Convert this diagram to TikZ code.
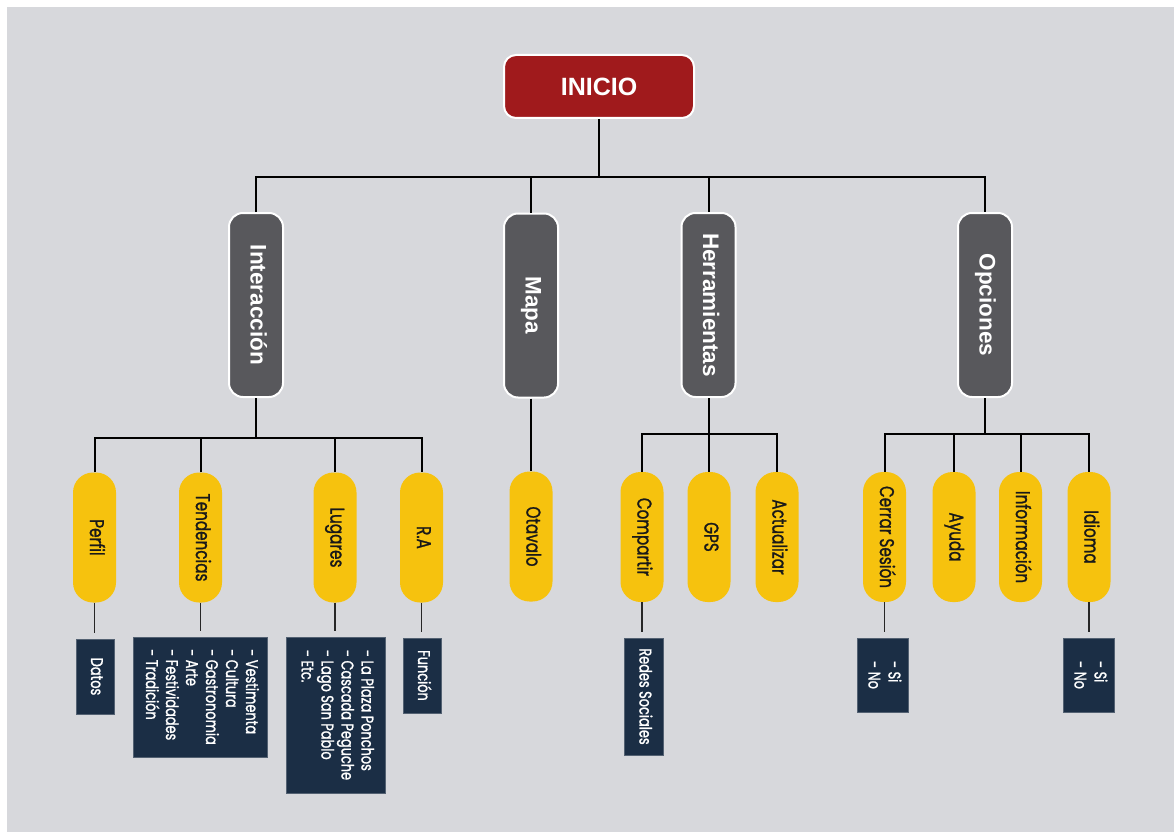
\documentclass[tikz,border=0pt]{standalone}
\usepackage{fontspec}
\usepackage{graphicx}
\setmainfont{Liberation Sans}
\newfontfamily\boldsans{Liberation Sans}
\newfontfamily\geofont[FakeStretch=0.76,FakeBold=1.2]{Poppins}
\definecolor{canvas}{HTML}{D7D8DC}
\definecolor{rootred}{HTML}{A01A1C}
\definecolor{mainslate}{HTML}{58585C}
\definecolor{leafgold}{HTML}{F6C20E}
\definecolor{notenavy}{HTML}{1B2E45}
\newcommand{\sidetext}[1]{\rotatebox[origin=c]{-90}{\begin{tabular}{@{}l@{}}#1\end{tabular}}}
\tikzset{
  rootbox/.style={rectangle, rounded corners=12pt, fill=rootred, draw=white, line width=2pt,
    minimum width=190pt, minimum height=63pt, text=white,
    font=\boldsans\bfseries\fontsize{25}{30}\selectfont},
  mainbox/.style={rectangle, rounded corners=14pt, fill=mainslate, draw=white, line width=2pt,
    minimum width=54pt, minimum height=184pt, text=white, inner sep=0pt,
    font=\boldsans\bfseries\fontsize{22.5}{27}\selectfont},
  leafbox/.style={rectangle, rounded corners=20pt, fill=leafgold, draw=none,
    minimum width=43pt, minimum height=130pt, text=black!90, inner sep=0pt,
    font=\geofont\fontsize{20}{23}\selectfont},
  notebox/.style={rectangle, fill=notenavy, draw=notenavy!70!canvas, line width=0.8pt,
    text=white, inner sep=0pt, font=\geofont\fontsize{17}{20}\selectfont},
  trunk/.style={draw=black, line width=2pt},
  twig/.style={draw=black!85, line width=1.3pt},
}
\begin{document}
\begin{tikzpicture}[x=1pt,y=-1pt]
\useasboundingbox (0,0) rectangle (1174,832);
\fill[white] (0,0) rectangle (1174,832);
\fill[canvas] (7,7) rectangle (1174,832);

% root
\node[rootbox] (inicio) at (599,86.5) {INICIO};

% main branches
\node[mainbox] (inter) at (256,305) {\sidetext{Interacción}};
\node[mainbox] (mapa)  at (531,305.5) {\sidetext{Mapa}};
\node[mainbox] (herr)  at (708.5,305) {\sidetext{Herramientas}};
\node[mainbox] (opc)   at (985,305) {\sidetext{Opciones}};

% leaves
\node[leafbox] (perfil) at (94.5,537.5) {\sidetext{Perfil}};
\node[leafbox] (tend)   at (200.5,537.5) {\sidetext{Tendencias}};
\node[leafbox] (lug)    at (335,537.5) {\sidetext{Lugares}};
\node[leafbox] (ra)     at (421.5,537.5) {\sidetext{R.A}};
\node[leafbox] (otav)   at (531,536.5) {\sidetext{Otavalo}};
\node[leafbox] (comp)   at (642,537) {\sidetext{Compartir}};
\node[leafbox] (gps)    at (709,537) {\sidetext{GPS}};
\node[leafbox] (act)    at (777,537) {\sidetext{Actualizar}};
\node[leafbox] (cerrar) at (884.5,537) {\sidetext{Cerrar Sesión}};
\node[leafbox] (ayuda)  at (954,537) {\sidetext{Ayuda}};
\node[leafbox] (info)   at (1020.5,537) {\sidetext{Información}};
\node[leafbox] (idioma) at (1089,537) {\sidetext{Idioma}};

% notes
\node[notebox, minimum width=38pt, minimum height=75pt] (datos) at (95,676.5) {\sidetext{Datos}};
\node[notebox, minimum width=134pt, minimum height=120pt] (tendl) at (200,697)
  {\sidetext{- Vestimenta\\- Cultura\\- Gastronomia\\- Arte\\- Festividades\\- Tradición}};
\node[notebox, minimum width=99pt, minimum height=156pt] (lugl) at (335.5,715)
  {\sidetext{- La Plaza Ponchos\\- Cascada Peguche\\- Lago San Pablo\\- Etc.}};
\node[notebox, minimum width=38pt, minimum height=75pt] (func) at (422,675.5) {\sidetext{Función}};
\node[notebox, minimum width=39pt, minimum height=117pt] (redes) at (643.5,696.5) {\sidetext{Redes Sociales}};
\node[notebox, minimum width=51pt, minimum height=74pt] (cerrl) at (882.5,675) {\sidetext{- Si\\- No}};
\node[notebox, minimum width=51pt, minimum height=74pt] (idiol) at (1088.5,675) {\sidetext{- Si\\- No}};

% root to main branches
\coordinate (topbar) at (599,177);
\draw[trunk] (inicio.south) -- (topbar);
\draw[trunk] (inter.north) |- (topbar) -| (opc.north);
\draw[trunk] (mapa.north) -- (mapa.north |- topbar);
\draw[trunk] (herr.north) -- (herr.north |- topbar);

% Interacción subtree
\coordinate (interbar) at (256,438);
\draw[trunk] (inter.south) -- (interbar);
\draw[trunk] (perfil.north) |- (interbar) -| (ra.north);
\draw[trunk] (tend.north) -- (tend.north |- interbar);
\draw[trunk] (lug.north) -- (lug.north |- interbar);

% Mapa subtree
\draw[trunk] (mapa.south) -- (otav.north);

% Herramientas subtree
\coordinate (herrbar) at (708.5,434);
\draw[trunk] (herr.south) -- (herrbar);
\draw[trunk] (comp.north) |- (herrbar) -| (act.north);
\draw[trunk] (gps.north) -- (gps.north |- herrbar);

% Opciones subtree
\coordinate (opcbar) at (985,434);
\draw[trunk] (opc.south) -- (opcbar);
\draw[trunk] (cerrar.north) |- (opcbar) -| (idioma.north);
\draw[trunk] (ayuda.north) -- (ayuda.north |- opcbar);
\draw[trunk] (info.north) -- (info.north |- opcbar);

% leaves to notes (short stems that stop above the notes)
\draw[twig] (perfil.south) -- ([yshift=6pt]perfil.south |- datos.north);
\draw[twig] (tend.south) -- ([yshift=6pt]tend.south |- tendl.north);
\draw[twig] (lug.south) -- ([yshift=6pt]lug.south |- lugl.north);
\draw[twig] (ra.south) -- ([yshift=6pt]ra.south |- func.north);
\draw[twig] (comp.south) -- ([yshift=6pt]comp.south |- redes.north);
\draw[twig] (cerrar.south) -- ([yshift=6pt]cerrar.south |- cerrl.north);
\draw[twig] (idioma.south) -- ([yshift=6pt]idioma.south |- idiol.north);
\end{tikzpicture}
\end{document}
